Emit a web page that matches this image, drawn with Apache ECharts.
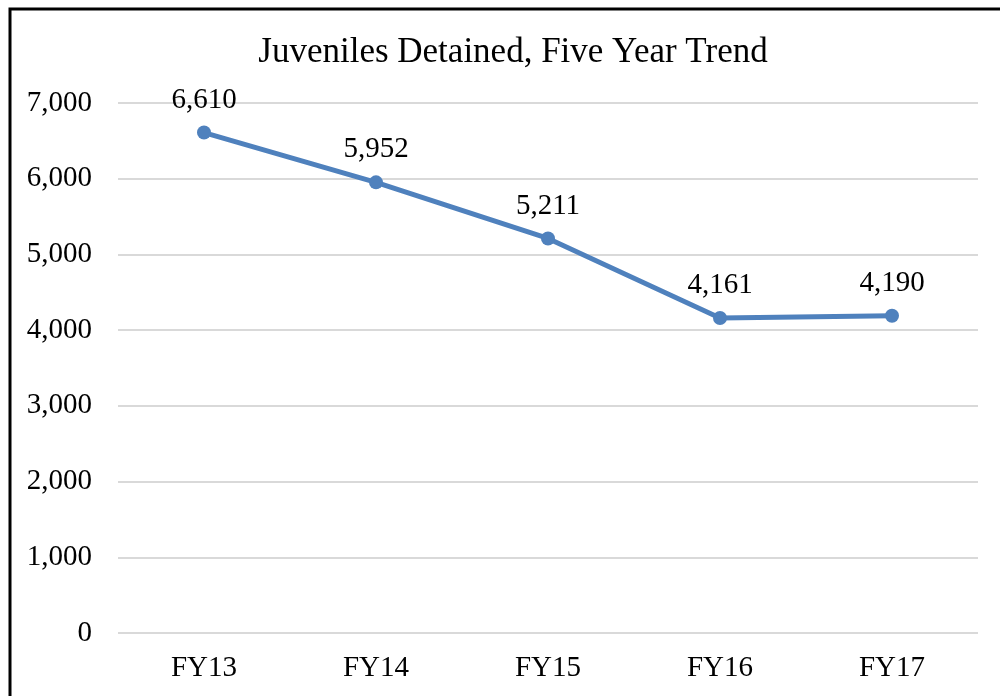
<!DOCTYPE html>
<html>
<head>
<meta charset="utf-8">
<script src="https://cdn.jsdelivr.net/npm/echarts@6/dist/echarts.min.js"></script>
<style>
html,body{margin:0;padding:0;background:#fff;}
#c{width:1000px;height:696px;}
</style>
</head>
<body>
<div id="c"></div>
<script>
const categories = ['FY13','FY14','FY15','FY16','FY17'];
const detained = [6610, 5952, 5211, 4161, 4190];
const yTicks = [0, 1000, 2000, 3000, 4000, 5000, 6000, 7000];

const font = '"Liberation Serif", "DejaVu Serif", serif';
const chart = echarts.init(document.getElementById('c'), null, {renderer: 'canvas'});
chart.setOption({
  animation: false,
  backgroundColor: '#fff',
  title: {
    text: 'Juveniles Detained, Five Year Trend',
    left: 508, textAlign: 'center', top: 30,
    textStyle: {fontFamily: font, fontSize: 35, fontWeight: 'normal', color: '#000'}
  },
  graphic: [{
    type: 'rect', silent: true,
    shape: {x: 10, y: 9, width: 1200, height: 900},
    style: {fill: 'none', stroke: '#000', lineWidth: 3}
  }],
  grid: {left: 118, right: 22, top: 103, bottom: 63},
  xAxis: {
    type: 'category', data: categories, boundaryGap: true,
    axisLine: {show: false}, axisTick: {show: false},
    axisLabel: {fontFamily: font, fontSize: 29, color: '#000', margin: 21}
  },
  yAxis: {
    type: 'value', min: yTicks[0], max: yTicks[yTicks.length-1], interval: 1000,
    axisLine: {show: false}, axisTick: {show: false},
    splitLine: {lineStyle: {color: '#d9d9d9', width: 2}},
    axisLabel: {fontFamily: font, fontSize: 29, color: '#000', margin: 26,
      padding: [4, 0, 0, 0],
      formatter: v => v.toLocaleString('en-US')}
  },
  series: [{
    type: 'line', data: detained,
    lineStyle: {color: '#4f81bd', width: 5},
    itemStyle: {color: '#4f81bd'},
    symbol: 'circle', symbolSize: 14,
    label: {show: true, position: 'top', distance: 11, fontFamily: font, fontSize: 29, color: '#000',
      formatter: p => p.value.toLocaleString('en-US')}
  }]
});
</script>
</body>
</html>
